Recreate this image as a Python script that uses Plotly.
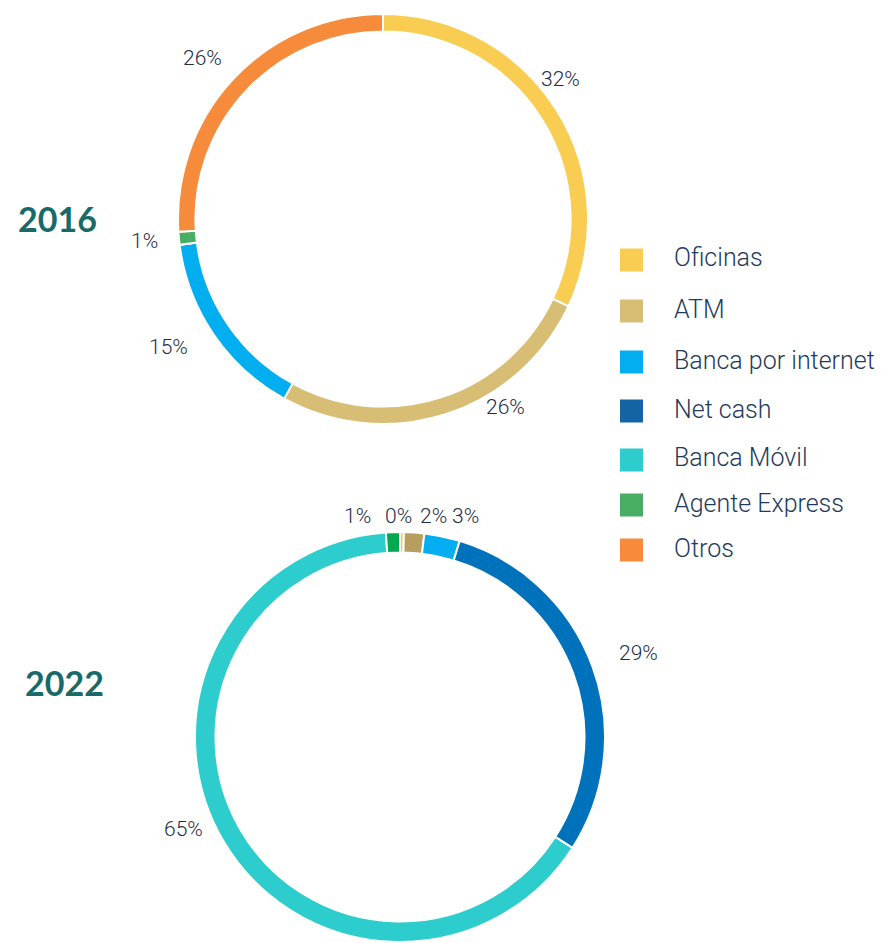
import plotly.graph_objects as go

# data
channels = ["Oficinas", "ATM", "Banca por internet", "Net cash", "Banca Móvil", "Agente Express", "Otros"]
share_2016 = [32, 26, 15, 0, 0, 1, 26]
share_2022 = [0.3, 1.6, 2.8, 29.4, 64.8, 1.1, 0]
years = ["2016", "2022"]

colors_2016 = ["#F8CD51", "#D8BE75", "#02AEEF", "#1464A5", "#2DCCCD", "#48AE64", "#F78B3C"]
colors_2022 = ["#F8CD51", "#B79E5E", "#02AEEF", "#0072BC", "#2DCCCD", "#00A94F", "#F78B3C"]

OFF = 8  # page body margin
W, H = 885 - OFF, 943 - OFF
TEXT = "#1E2D48"
FONT = "Roboto"

# pixel layout (window coords): donut centre / radius / hole, percent label spots, year label spots
donuts = [dict(cx=383, cy=219, r=205, hole=0.915), dict(cx=400, cy=737, r=205, hole=0.90)]
label_spots = [
    [(560, 79), (505, 407), (168, 347), None, None, (144, 241), (202, 58)],
    [(398, 516), (433, 516), (465, 516), (638, 653), (183, 829), (357, 516), None],
]
year_spots = [(57, 218), (64, 682)]


def px(x, y):
    return (x - OFF) / W, 1 - (y - OFF) / H


fig = go.Figure()
for vals, cols, d in zip([share_2016, share_2022], [colors_2016, colors_2022], donuts):
    x0, y1 = px(d["cx"] - d["r"], d["cy"] - d["r"])
    x1, y0 = px(d["cx"] + d["r"], d["cy"] + d["r"])
    fig.add_trace(go.Pie(
        labels=channels, values=vals, sort=False, direction="clockwise", rotation=0,
        hole=d["hole"], textinfo="none", hoverinfo="label+percent", showlegend=False,
        marker=dict(colors=cols, line=dict(color="white", width=2)),
        domain=dict(x=[x0, x1], y=[y0, y1]),
    ))

annotations = []
for vals, spots in zip([share_2016, share_2022], label_spots):
    for v, s in zip(vals, spots):
        if s is None:
            continue
        x, y = px(*s)
        annotations.append(dict(x=x, y=y, xref="paper", yref="paper", text=f"{round(v)}%",
                                xanchor="center", yanchor="middle", showarrow=False,
                                font=dict(family=FONT, size=21, color=TEXT, weight=300)))

for yr, s in zip(years, year_spots):
    x, y = px(*s)
    annotations.append(dict(x=x, y=y, xref="paper", yref="paper", text=yr, showarrow=False,
                            xanchor="center", yanchor="middle",
                            font=dict(family="Lato", size=34, color="#186A6A", weight="bold")))

# legend drawn by hand (square swatches)
legend_y = [260, 311, 362, 411, 460, 505, 550]
shapes = []
for name, col, ly in zip(channels, colors_2016, legend_y):
    x0, y1 = px(620, ly - 11.5)
    x1, y0 = px(643, ly + 11.5)
    shapes.append(dict(type="rect", xref="paper", yref="paper", x0=x0, x1=x1, y0=y0, y1=y1,
                       fillcolor=col, line=dict(width=0)))
    tx, ty = px(672, ly - 2)
    annotations.append(dict(x=tx, y=ty, xref="paper", yref="paper", text=name, showarrow=False,
                            xanchor="left", yanchor="middle",
                            font=dict(family=FONT, size=25, color="#1F3A5C", weight=300)))

fig.update_layout(
    width=W, height=H, margin=dict(l=0, r=0, t=0, b=0),
    paper_bgcolor="white", plot_bgcolor="white",
    annotations=annotations, shapes=shapes,
)
fig.write_html("out.html")
